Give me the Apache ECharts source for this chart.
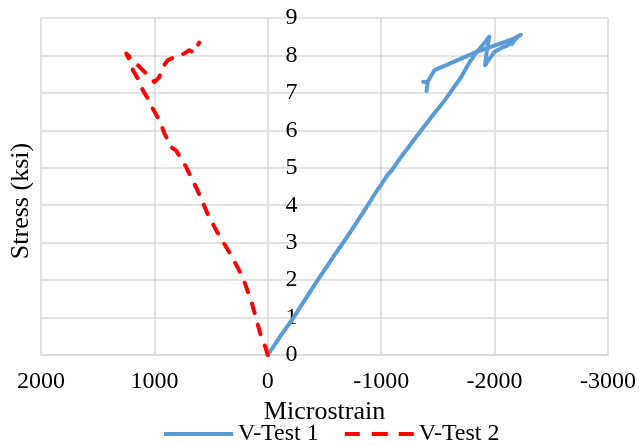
<!DOCTYPE html>
<html>
<head>
<meta charset="utf-8">
<script src="https://cdn.jsdelivr.net/npm/echarts@6/dist/echarts.min.js"></script>
<style>
  html, body { margin: 0; padding: 0; background: #fff; }
  #chart { width: 639px; height: 446px; }
</style>
</head>
<body>
<div id="chart"></div>
<script>
// strain (microstrain) / stress (ksi)
const test1Strain = [0, -110, -228, -290, -440, -595, -680, -740, -850, -960, -1000, -1061, -1090, -1190, -1290, -1390, -1460, -1495, -1560, -1630, -1700, -1775, -1850, -1900, -1953, -1935, -1915, -1930, -1997, -2060, -2114, -2160, -2150, -2200, -2231, -2171, -1836, -1471, -1410, -1370, -1410, -1400];
const test1Stress = [0, 0.5, 1.0, 1.3, 2.0, 2.7, 3.07, 3.34, 3.85, 4.38, 4.55, 4.83, 4.92, 5.35, 5.75, 6.15, 6.42, 6.55, 6.8, 7.1, 7.4, 7.8, 8.12, 8.3, 8.5, 8.2, 7.74, 7.8, 8.09, 8.2, 8.27, 8.4, 8.3, 8.5, 8.55, 8.45, 8.09, 7.61, 7.3, 7.3, 7.28, 7.05];

const test2Strain = [0, 20, 60, 140, 200, 254, 350, 450, 532, 620, 722, 810, 830, 853, 912, 956, 1015, 1059, 1102, 1146, 1190, 1205, 1248, 1175, 1103, 1000, 956, 935, 883, 795, 737, 693, 649, 634, 605];
const test2Stress = [0, 0.2, 0.5, 1.38, 1.9, 2.27, 2.8, 3.3, 3.78, 4.4, 5.03, 5.47, 5.5, 5.56, 5.92, 6.27, 6.58, 6.85, 7.07, 7.38, 7.61, 7.78, 8.05, 7.83, 7.61, 7.29, 7.42, 7.65, 7.87, 8.0, 8.05, 8.14, 8.07, 8.18, 8.34];

const strainTicks = [2000, 1000, 0, -1000, -2000, -3000];
const stressTicks = [0, 1, 2, 3, 4, 5, 6, 7, 8, 9];

const serif = "'Liberation Serif', 'Times New Roman', 'DejaVu Serif', serif";
const gridColor = '#d9d9d9';

function pairs(xs, ys) {
    return xs.map((x, i) => [x, ys[i]]);
}

// y axis sits at strain 0: pull it in from the right edge of the grid
const gridLeft = 41, gridRight = 27, chartWidth = 639;
const plotWidth = chartWidth - gridLeft - gridRight;
const xMin = strainTicks[strainTicks.length - 1], xMax = strainTicks[0];
const zeroFromRight = plotWidth * (0 - xMin) / (xMax - xMin);

let mychart = echarts.init(document.getElementById('chart'));
mychart.setOption({
    animation: false,
    grid: { left: gridLeft, right: gridRight, top: 18, bottom: 91 },
    graphic: [{
        type: 'text',
        x: 21,
        y: 201,
        rotation: Math.PI / 2,
        style: {
            text: 'Stress (ksi)',
            fontFamily: serif,
            fontSize: 26,
            fill: '#000',
            textAlign: 'center',
            textVerticalAlign: 'middle'
        }
    }],
    legend: {
        top: 417,
        left: 159,
        itemWidth: 69,
        itemHeight: 4,
        itemGap: 26,
        textStyle: { fontFamily: serif, fontSize: 24, color: '#000' },
        data: [
            { name: 'V-Test 1', icon: 'path://M0,0h69v4h-69z' },
            { name: 'V-Test 2', icon: 'path://M0,0h15v4h-15z M27,0h16v4h-16z M54,0h15v4h-15z' }
        ]
    },
    xAxis: {
        type: 'value',
        inverse: true,
        min: xMin,
        max: xMax,
        interval: 1000,
        name: 'Microstrain',
        nameLocation: 'middle',
        nameGap: 37,
        nameTextStyle: { fontFamily: serif, fontSize: 26, color: '#000' },
        axisLine: { onZero: false, lineStyle: { color: gridColor, width: 1.5 } },
        axisTick: { show: false },
        axisLabel: { fontFamily: serif, fontSize: 24, color: '#000', margin: 15, formatter: v => String(v) },
        splitLine: { show: true, lineStyle: { color: gridColor, width: 1.5 } }
    },
    yAxis: {
        type: 'value',
        position: 'right',
        offset: -zeroFromRight,
        min: stressTicks[0],
        max: stressTicks[stressTicks.length - 1],
        interval: 1,
        axisLine: { show: false },
        axisTick: { show: false },
        axisLabel: {
            margin: 20, hideOverlap: false,
            fontFamily: serif, fontSize: 24, color: '#000',
            formatter: v => String(v)
        },
        splitLine: { show: true, lineStyle: { color: gridColor, width: 1.5 } }
    },
    series: [
        {
            name: 'V-Test 1',
            type: 'line',
            data: pairs(test1Strain, test1Stress),
            symbol: 'none',
            color: '#5b9bd5',
            lineStyle: { color: '#5b9bd5', width: 4, cap: 'round', join: 'round' }
        },
        {
            name: 'V-Test 2',
            type: 'line',
            data: pairs(test2Strain, test2Stress),
            symbol: 'none',
            color: '#ff0000',
            lineStyle: { color: '#ff0000', width: 4, type: [10, 12], cap: 'round', join: 'round' }
        }
    ]
});
</script>
</body>
</html>
